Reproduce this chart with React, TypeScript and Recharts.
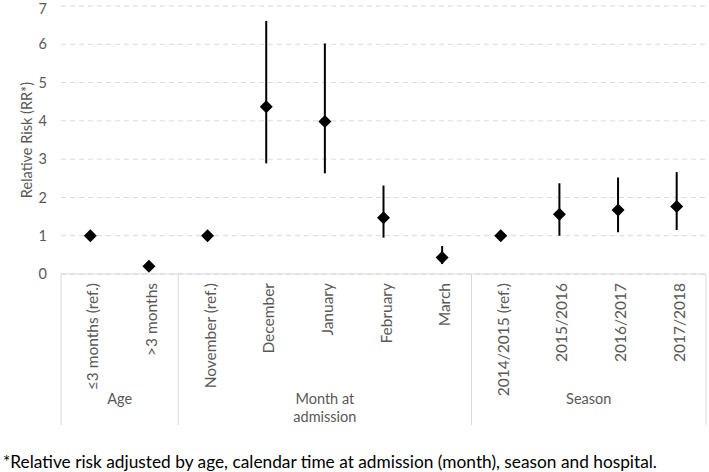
import React from "react";
import {
  ComposedChart,
  Line,
  XAxis,
  YAxis,
  CartesianGrid,
  ErrorBar,
} from "recharts";

const categories = [
  "≤3 months (ref.)",
  ">3 months",
  "November (ref.)",
  "December",
  "January",
  "February",
  "March",
  "2014/2015 (ref.)",
  "2015/2016",
  "2016/2017",
  "2017/2018",
];
const rrValues = [1, 0.2, 1, 4.37, 3.98, 1.47, 0.43, 1, 1.56, 1.67, 1.76];
const lowerCI = [1, 0.17, 1, 2.89, 2.63, 0.95, 0.26, 1, 1.0, 1.09, 1.15];
const upperCI = [1, 0.24, 1, 6.61, 6.02, 2.31, 0.73, 1, 2.37, 2.52, 2.66];
const groupNames = [["Age"], ["Month at", "admission"], ["Season"]];
const groupSizes = [2, 5, 4];
const yTicks = [0, 1, 2, 3, 4, 5, 6, 7];
const footnote =
  "*Relative risk adjusted by age, calendar time at admission (month), season and hospital.";

const data = categories.map((name, i) => ({
  name,
  rr: rrValues[i],
  err: [rrValues[i] - lowerCI[i], upperCI[i] - rrValues[i]],
}));

const W = 709;
const H = 472;
const M = { top: 6, right: 3, bottom: 0, left: 0 };
const Y_AXIS_W = 61;
const X_AXIS_H = 198;
const PLOT_W = W - M.left - M.right - Y_AXIS_W;
const BAND = PLOT_W / categories.length;
const BOX_H = 151;
const FONT = "Lato, 'Open Sans', sans-serif";
const TEXT = "#595959";
const LINE = "#d9d9d9";

const groupStart: number[] = [];
{
  let s = 0;
  groupSizes.forEach((g) => {
    groupStart.push(s);
    s += g;
  });
}

const Diamond = (props: any) => {
  const { cx, cy } = props;
  if (cx == null || cy == null) return null;
  const r = 6.5;
  return (
    <polygon
      points={`${cx},${cy - r} ${cx + r},${cy} ${cx},${cy + r} ${cx - r},${cy}`}
      fill="#000"
    />
  );
};

const XTick = (props: any) => {
  const { x, payload } = props;
  const idx = payload.index;
  const y0 = 274;
  const gi = groupStart.indexOf(idx);
  const els: React.ReactNode[] = [];
  els.push(
    <text
      key="t"
      x={0}
      y={0}
      transform={`translate(${x + 2},${y0 + 9}) rotate(-90)`}
      textAnchor="end"
      dominantBaseline="central"
      fontSize={15.5}
      fontFamily={FONT}
      fill={TEXT}
    >
      {payload.value}
    </text>
  );
  if (gi >= 0) {
    const left = x - BAND / 2;
    els.push(
      <line key="l" x1={left} x2={left} y1={y0} y2={y0 + BOX_H} stroke={LINE} strokeWidth={1} />
    );
    const cx = left + (groupSizes[gi] * BAND) / 2;
    groupNames[gi].forEach((ln, k) => {
      els.push(
        <text
          key={"g" + k}
          x={cx}
          y={y0 + 124 + k * 18}
          textAnchor="middle"
          dominantBaseline="central"
          fontSize={14.5}
          fontFamily={FONT}
          fill={TEXT}
        >
          {ln}
        </text>
      );
    });
  }
  if (idx === categories.length - 1) {
    const right = x + BAND / 2;
    els.push(
      <line key="r" x1={right} x2={right} y1={y0} y2={y0 + BOX_H} stroke={LINE} strokeWidth={1} />
    );
  }
  return <g>{els}</g>;
};

export default function App() {
  return (
    <div style={{ position: "absolute", left: 0, top: 0, width: W, height: H, background: "#fff" }}>
      <ComposedChart width={W} height={H} data={data} margin={M}>
        <CartesianGrid vertical={false} stroke={LINE} strokeDasharray="5 4" />
        <XAxis
          dataKey="name"
          scale="band"
          interval={0}
          height={X_AXIS_H}
          tickLine={false}
          tickSize={0}
          tickMargin={0}
          axisLine={{ stroke: LINE }}
          tick={<XTick />}
        />
        <YAxis
          width={Y_AXIS_W}
          domain={[0, 7]}
          ticks={yTicks}
          axisLine={false}
          tickLine={false}
          tickSize={0}
          tickMargin={14}
          tick={{ fontSize: 14.5, fill: TEXT, fontFamily: FONT }}
          label={{
            value: "Relative Risk (RR*)",
            angle: -90,
            position: "insideLeft",
            offset: 27,
            style: { textAnchor: "middle", fontSize: 14.5, fill: TEXT, fontFamily: FONT },
          }}
        />
        <Line
          dataKey="rr"
          stroke="none"
          isAnimationActive={false}
          dot={<Diamond />}
          activeDot={false}
        >
          <ErrorBar dataKey="err" width={0} stroke="#000" strokeWidth={2} direction="y" />
        </Line>
      </ComposedChart>
      <div
        style={{
          position: "absolute",
          left: 3,
          top: 451,
          fontFamily: FONT,
          fontSize: 17.3,
          color: "#000",
          whiteSpace: "nowrap",
        }}
      >
        {footnote}
      </div>
    </div>
  );
}
